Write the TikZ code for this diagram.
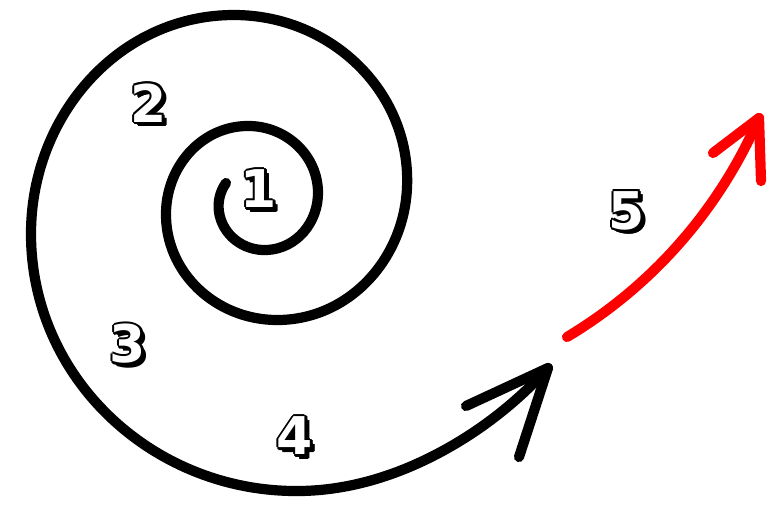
\documentclass[tikz,border=0pt]{standalone}
\usepackage{fontspec}
\usepackage{tikz}
\usetikzlibrary{positioning,hobby}
\newfontfamily\digitfont{DejaVu Sans}
\definecolor{redarrow}{HTML}{FF0000}

% outlined number with drop shadow: position, name, text
\newcommand{\stagenum}[3]{%
  \foreach \dx/\dy in {2.2/0,-2.2/0,0/2.2,0/-2.2,1.6/1.6,-1.6/1.6,1.6/-1.6,-1.6/-1.6,3/3,3.8/3.8,4.4/3.4,3.4/4.4}
    \node[numback] at ([shift={(\dx,\dy)}]#1) {#3};
  \node[numface] (#2) at (#1) {#3};}

\begin{document}
\begin{tikzpicture}[x=1pt,y=-1pt,line cap=round,line join=round]
\tikzstyle{numback}=[inner sep=0pt,text=black,font=\digitfont\bfseries\fontsize{52}{52}\selectfont]
\tikzstyle{numface}=[numback,text=white]
\tikzstyle{stroke}=[line width=10.2pt,use Hobby shortcut]
\fill[white] (0,0) rectangle (778,507);
\useasboundingbox (0,0) rectangle (778,507);

% black spiral
\draw[stroke] (226,183) .. (219,212) .. (267,250) .. (318,192) .. (250,126)
  .. (166,212) .. (277,320) .. (407,188) .. (235,15) .. (31,233)
  .. (300,491) .. (448,448) .. (548,368);
\coordinate (tipA) at (548,368);
\draw[stroke] (466,406) -- (tipA) -- (519,457);

% red arrow
\draw[stroke,redarrow] (567,337) .. (667,257) .. (759,118);
\coordinate (tipB) at (759,118);
\draw[stroke,redarrow] (713,153) -- (tipB) -- (761,181);

% stage numbers
\stagenum{259,189}{n1}{1}
\stagenum{149,103}{n2}{2}
\stagenum{128,344}{n3}{3}
\stagenum{295,436}{n4}{4}
\stagenum{627,211}{n5}{5}
\end{tikzpicture}
\end{document}
